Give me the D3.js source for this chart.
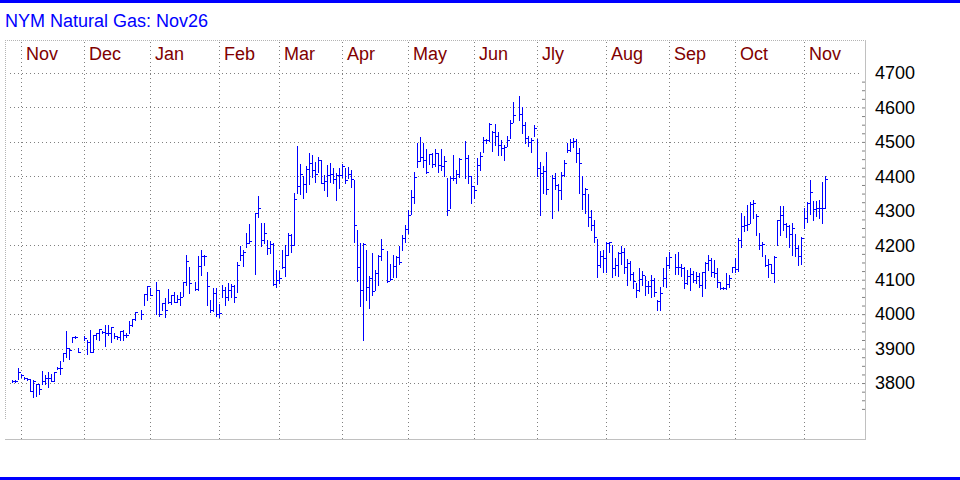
<!DOCTYPE html>
<html>
<head>
<meta charset="utf-8">
<title>NYM Natural Gas: Nov26</title>
<script src="https://d3js.org/d3.v7.min.js"></script>
<style>
body { margin: 0; background: #fff; }
svg text { font-family: "Liberation Sans", Arial, sans-serif; }
</style>
</head>
<body>
<script>

// one value per weekday from 29 Oct 2024, null = no trading that day
var firstDay = new Date(2024, 9, 29);

var high = [
  3808,3808,3844,3827,3817,3814,3811,3809,3798,3798,
  3836,3823,3831,3827,3833,3848,3863,3887,3952,3901,
  3935,3937,3901,null,3937,3924,3955,3940,3945,3957,
  3951,3968,3968,3962,3945,3937,3951,3955,3945,3981,
  3986,4007,null,4013,4059,4082,4075,null,4092,4069,
  4032,4046,4073,4055,4065,4057,4063,4094,4171,4137,
  null,4094,4169,4187,4171,4121,4042,4076,4076,4030,
  4084,4080,4090,4088,4086,4150,4198,4185,4237,4262,
  null,4295,4344,4264,4264,4214,4212,4206,4129,4125,
  4187,4200,4235,4233,4353,4489,4435,4400,4429,4468,
  4463,4442,4457,4448,4405,4434,4440,4424,4411,4424,
  4436,4424,4427,4419,4390,4245,4206,4206,4187,4110,
  4177,4129,4172,4219,null,4184,4146,4172,4170,4198,
  4230,4260,4301,4359,4414,4496,4514,4497,4479,4464,
  4468,4479,4468,4479,4458,4395,4400,4462,4419,4453,
  null,4504,4462,4400,4373,4452,4471,4514,4508,4555,
  4533,4553,4528,4506,4491,4516,4564,4617,null,4632,
  4600,4559,4518,4510,4550,4508,4443,4429,4470,null,
  4404,4409,4378,4414,4448,4497,4508,4510,4508,4482,
  4400,4365,4349,4301,4274,4218,4183,4187,4210,4210,
  4200,4164,4181,4197,4191,4160,4154,4123,4090,4133,
  4125,4111,4096,4113,4104,4042,4080,4133,4166,4181,
  null,4175,4181,4146,4137,4129,4135,4125,4123,4119,
  4123,4152,4171,4164,4156,4135,4092,4080,4119,4115,
  4137,4162,4222,4293,4284,4317,4326,4330,4291,4235,
  4210,4171,4160,4146,4170,4274,4313,4313,4264,4259,
  4264,4233,4200,4224,4307,4326,4390,4328,4328,4332,
  4384,4402
];

var low = [
  3803,3804,3813,3817,3811,3808,3776,3759,3763,3767,
  3798,3798,3788,3806,3806,3840,3827,3863,3875,3869,
  3918,3931,3891,null,3924,3883,3891,3891,3929,3924,
  3945,3908,3939,3918,3931,3927,3924,3926,3935,3945,
  3966,3984,null,3986,4026,4042,4055,null,4001,3995,
  4013,3993,4032,4030,4034,4034,4028,4053,4084,4061,
  null,4071,4071,4115,4142,4026,4007,4009,3996,3991,
  4049,4026,4042,4051,4036,4063,4156,4139,4195,4206,
  null,4117,4282,4197,4206,4175,4177,4084,4080,4090,
  4134,4111,4171,4181,4200,4351,4350,4338,4355,4379,
  4399,4383,4412,4380,4361,4344,4384,4382,4332,4365,
  4398,4380,4395,4369,4208,4095,4024,3926,4040,4017,
  4056,4071,4086,4156,null,4092,4098,4108,4108,4146,
  4187,4210,4237,4290,4322,4427,4444,4427,4411,4435,
  4427,4429,4413,4419,4402,4288,4307,4388,4380,4398,
  null,4395,4382,4324,4338,4379,4417,4471,4497,4504,
  4475,4491,4462,4462,4448,4489,4510,4557,null,4564,
  4526,4497,4489,4470,4516,4402,4288,4351,4350,null,
  4280,4363,4303,4334,4402,4470,4475,4485,4443,4351,
  4305,4293,4255,4245,4208,4108,4138,4123,4123,4179,
  4108,4113,4110,4146,4119,4086,4098,4077,4051,4067,
  4086,4055,4061,4049,4053,4013,4011,4082,4080,4135,
  null,4117,4117,4111,4077,4088,4071,4094,4090,4080,
  4053,4077,4127,4110,4108,4080,4073,4073,4073,4080,
  4121,4121,4125,4195,4241,4243,4266,4278,4230,4189,
  4168,4139,4108,4119,4092,4202,4230,4245,4224,4195,
  4171,4168,4142,4146,4249,4268,4290,4274,4284,4278,
  4266,4307
];

var close = [
  3806,3806,3833,3823,3814,3811,3777,3805,3798,3782,
  3806,3815,3815,3806,3833,3844,3844,3887,3901,3897,
  3935,3935,3891,null,3930,3920,3891,3940,3945,3957,
  3947,3945,3945,3962,3937,3933,3951,3939,3939,3968,
  3986,4007,null,4000,4059,4082,4055,null,4071,4001,
  4032,4013,4034,4055,4036,4044,4051,4094,4154,4090,
  null,4073,4140,4169,4169,4082,4013,4060,3999,4003,
  4071,4051,4071,4082,4051,4142,4171,4181,4206,4212,
  null,4293,4309,4216,4235,4193,4204,4088,4098,4106,
  4137,4171,4231,4200,4334,4371,4408,4377,4421,4439,
  4419,4406,4448,4382,4387,4405,4408,4392,4405,4405,
  4431,4388,4408,4392,4258,4138,4071,4204,4078,4105,
  4066,4119,4169,4189,null,4095,4102,4140,4167,4150,
  4221,4247,4287,4340,4397,4445,4456,4448,4413,4464,
  4437,4468,4433,4429,4446,4303,4395,4394,4408,4451,
  null,4452,4402,4371,4359,4433,4460,4506,4506,4553,
  4530,4516,4491,4481,4485,4506,4556,4579,null,4580,
  4549,4512,4500,4506,4540,4425,4409,4415,4363,null,
  4394,4375,4361,4404,4438,4477,4499,4502,4468,4440,
  4348,4363,4282,4260,4224,4144,4168,4164,4206,4208,
  4135,4142,4177,4179,4137,4148,4117,4096,4071,4102,
  4115,4082,4082,4098,4063,4038,4061,4104,4142,4166,
  null,4137,4137,4135,4090,4111,4117,4100,4111,4086,
  4123,4148,4158,4123,4119,4092,4077,4075,4088,4106,
  4137,4131,4214,4257,4259,4261,4321,4322,4286,4202,
  4204,4142,4146,4119,4166,4272,4288,4262,4255,4233,
  4251,4191,4170,4220,4278,4322,4355,4305,4307,4307,
  4307,4392
];

var monthNames = ["Nov", "Dec", "Jan", "Feb", "Mar", "Apr", "May", "Jun", "Jly", "Aug", "Sep", "Oct", "Nov"];
var priceTicks = [3800, 3900, 4000, 4100, 4200, 4300, 4400, 4500, 4600, 4700];

var width = 960, height = 480;
var plot = {left: 5, right: 865, top: 40, bottom: 440};

// weekday dates for every slot
var days = d3.timeDay.range(firstDay, d3.timeDay.offset(firstDay, 420))
    .filter(function(d) { return d.getDay() % 6 != 0; })
    .slice(0, close.length);

var monthStarts = [];
days.forEach(function(d, i) {
  if (i > 0 && d.getMonth() != days[i - 1].getMonth()) monthStarts.push(i);
});

// 3px per weekday
var x = d3.scaleLinear().domain([-4, 284]).range([0, 864]);
var y = d3.scaleLinear().domain([3700, 4700]).range([417.5, 73]);

var svg = d3.select("body").append("svg")
    .attr("width", width)
    .attr("height", height)
    .style("display", "block");

// blue rules top and bottom
svg.append("rect").attr("x", 0).attr("y", 0).attr("width", width).attr("height", 3).attr("fill", "#0000ff");
svg.append("rect").attr("x", 0).attr("y", 477).attr("width", width).attr("height", 3).attr("fill", "#0000ff");

svg.append("text")
    .attr("x", 5)
    .attr("y", 27)
    .attr("font-size", "18px")
    .attr("fill", "#0000ff")
    .text("NYM Natural Gas: Nov26");

//frame
svg.append("line")
    .attr("x1", plot.left).attr("x2", plot.right)
    .attr("y1", plot.top + 0.5).attr("y2", plot.top + 0.5)
    .attr("stroke", "#b4b4b4").attr("stroke-dasharray", "1,1");
svg.append("line")
    .attr("x1", plot.left + 0.5).attr("x2", plot.left + 0.5)
    .attr("y1", plot.top).attr("y2", Math.round(y(3700)) + 1)
    .attr("stroke", "#b4b4b4").attr("stroke-dasharray", "1,1");
svg.append("line")
    .attr("x1", plot.left).attr("x2", plot.right + 1)
    .attr("y1", plot.bottom - 0.5).attr("y2", plot.bottom - 0.5)
    .attr("stroke", "#c0c0c0");
svg.append("line")
    .attr("x1", plot.right + 0.5).attr("x2", plot.right + 0.5)
    .attr("y1", plot.top).attr("y2", plot.bottom)
    .attr("stroke", "#c0c0c0");

//horizontal grid
svg.append("g").selectAll("line")
    .data(priceTicks)
    .enter().append("line")
    .attr("x1", plot.left + 5).attr("x2", plot.right - 3)
    .attr("y1", function(d) { return Math.round(y(d)) + 0.5; })
    .attr("y2", function(d) { return Math.round(y(d)) + 0.5; })
    .attr("stroke", "#808080")
    .attr("stroke-dasharray", "1,3");

//month lines and labels
var months = svg.append("g").selectAll("g")
    .data(monthStarts)
    .enter().append("g");

months.append("line")
    .attr("x1", function(d) { return Math.round(x(d)) + 0.5; })
    .attr("x2", function(d) { return Math.round(x(d)) + 0.5; })
    .attr("y1", plot.top + 2)
    .attr("y2", plot.bottom - 1)
    .attr("stroke", "#808080")
    .attr("stroke-dasharray", "1,3");

months.append("text")
    .attr("x", function(d) { return Math.round(x(d)) + 5; })
    .attr("y", 60)
    .attr("font-size", "18px")
    .attr("fill", "#800000")
    .text(function(d, i) { return monthNames[i]; });

//price labels
var yAxis = svg.append("g")
    .attr("transform", "translate(" + plot.right + ",0)")
    .call(d3.axisRight(y).tickValues(priceTicks).tickSize(0).tickPadding(10).tickFormat(d3.format("d")));
yAxis.select(".domain").remove();
yAxis.selectAll("text")
    .attr("font-size", "18px")
    .attr("font-family", null)
    .attr("fill", "#000");

//small ticks inside right edge
var minor = svg.append("g")
    .attr("transform", "translate(" + plot.right + ",0)")
    .call(d3.axisLeft(y).tickValues(d3.range(3725, 4700, 25)).tickSize(3).tickFormat(""));
minor.select(".domain").remove();
minor.selectAll("line").attr("stroke", "#808080");

//bars
var idx = d3.range(close.length).filter(function(i) { return close[i] != null; });

var bars = svg.append("g")
    .attr("fill", "#0000ff")
    .attr("shape-rendering", "crispEdges");

bars.selectAll("rect.hl")
    .data(idx)
    .enter().append("rect")
    .attr("class", "hl")
    .attr("x", function(i) { return Math.round(x(i)); })
    .attr("width", 1)
    .attr("y", function(i) { return Math.round(y(high[i])); })
    .attr("height", function(i) { return Math.round(y(low[i])) - Math.round(y(high[i])) + 1; });

bars.selectAll("rect.cl")
    .data(idx)
    .enter().append("rect")
    .attr("class", "cl")
    .attr("x", function(i) { return Math.round(x(i)) + 1; })
    .attr("width", 2)
    .attr("y", function(i) { return Math.round(y(close[i])); })
    .attr("height", 1);

</script>
</body>
</html>
